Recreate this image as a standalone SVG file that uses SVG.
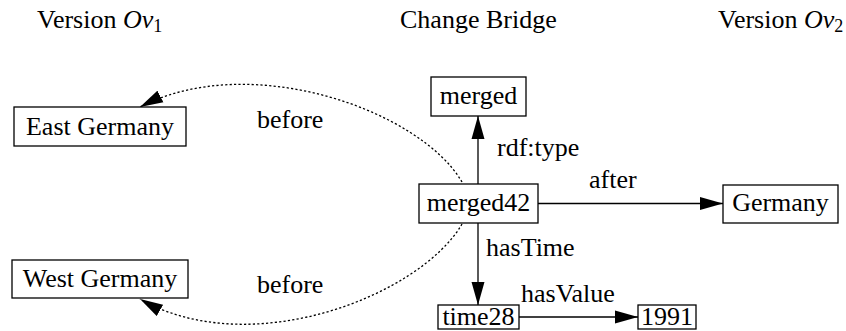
<svg xmlns="http://www.w3.org/2000/svg" width="846" height="331" viewBox="0 0 846 331" font-family="'Liberation Serif', 'DejaVu Serif', serif">
<style>
text{font-family:'Liberation Serif','DejaVu Serif',serif;font-size:26px;fill:#000}
.box{fill:#fff;stroke:#000;stroke-width:1.3}
.lbl{text-anchor:middle}
.edge{fill:none;stroke:#000;stroke-width:1.3}
.dot{fill:none;stroke:#000;stroke-width:1.3;stroke-dasharray:2.2 2.2}
</style>
<defs>
<marker id="ah" markerUnits="userSpaceOnUse" markerWidth="24" markerHeight="14" refX="23" refY="6.5" orient="auto" viewBox="0 0 24 13">
<path d="M0,0 L23,6.5 L0,13 z" fill="#000"/>
</marker>
</defs>
<g id="headers">
<text x="37" y="28">Version <tspan font-style="italic">Ov</tspan><tspan font-size="18" dy="4">1</tspan></text>
<text x="400" y="28">Change Bridge</text>
<text x="718" y="28">Version <tspan font-style="italic">Ov</tspan><tspan font-size="18" dy="4">2</tspan></text>
</g>
<g id="connectors">
<path class="edge" d="M478,184 L478,116" marker-end="url(#ah)"/>
<path class="edge" d="M478,223 L478,305" marker-end="url(#ah)"/>
<path class="edge" d="M538,203.5 L723,203.5" marker-end="url(#ah)"/>
<path class="edge" d="M519,317 L638,317" marker-end="url(#ah)"/>
<path class="dot" d="M462,182 C420,110 250,50 140,107" marker-end="url(#ah)"/>
<path class="dot" d="M462,224 C420,296 250,362 140,299" marker-end="url(#ah)"/>
<text x="497" y="156">rdf:type</text>
<text x="589" y="188">after</text>
<text x="486" y="256">hasTime</text>
<text x="521" y="302">hasValue</text>
<text x="257" y="128">before</text>
<text x="257" y="293">before</text>
</g>
<g id="east-germany"><rect class="box" x="14" y="107" width="172" height="39"/><text class="lbl" x="100" y="135">East Germany</text></g>
<g id="west-germany"><rect class="box" x="12" y="260" width="176" height="38"/><text class="lbl" x="100" y="287">West Germany</text></g>
<g id="merged"><rect class="box" x="431" y="77" width="95" height="39"/><text class="lbl" x="478.5" y="104">merged</text></g>
<g id="merged42"><rect class="box" x="419" y="184" width="119" height="39"/><text class="lbl" x="478.5" y="211">merged42</text></g>
<g id="germany"><rect class="box" x="723" y="185" width="115" height="38"/><text class="lbl" x="780.5" y="211">Germany</text></g>
<g id="time28"><rect class="box" x="438" y="305" width="81" height="24"/><text class="lbl" x="478.5" y="325">time28</text></g>
<g id="y1991"><rect class="box" x="638" y="305" width="58" height="24"/><text class="lbl" x="667" y="325">1991</text></g>
</svg>
